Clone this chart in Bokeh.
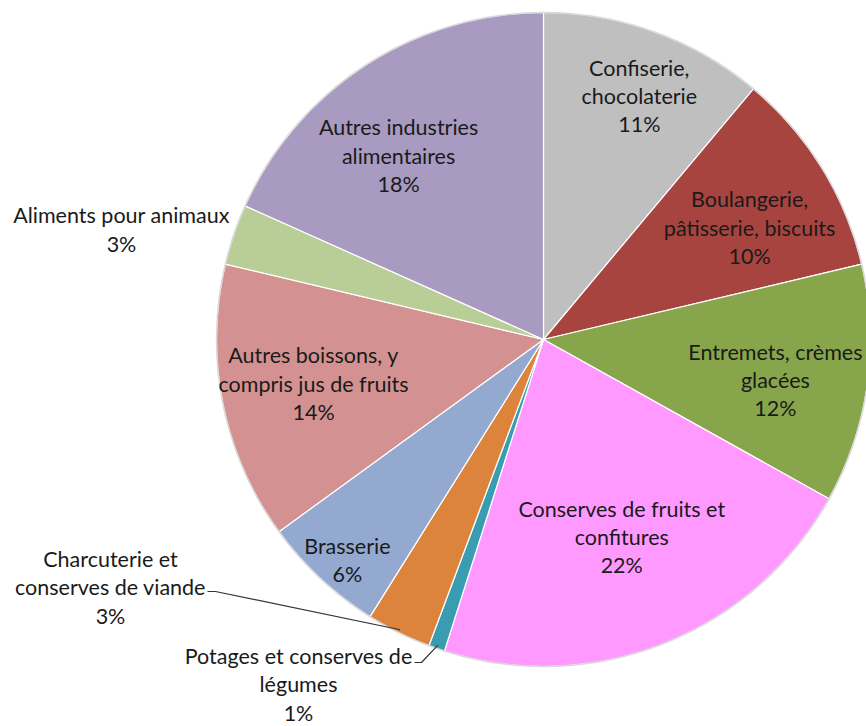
import math
from bokeh.plotting import figure
from bokeh.models import Range1d, ColumnDataSource
from bokeh.core.properties import value
from bokeh.embed import file_html
from bokeh.resources import INLINE

# ---- data ----
categories = [
    "Confiserie,\nchocolaterie",
    "Boulangerie,\npâtisserie, biscuits",
    "Entremets, crèmes\nglacées",
    "Conserves de fruits et\nconfitures",
    "Potages et conserves de\nlégumes",
    "Charcuterie et\nconserves de viande",
    "Brasserie",
    "Autres boissons, y\ncompris jus de fruits",
    "Aliments pour animaux",
    "Autres industries\nalimentaires",
]
shares = [11.1, 10.2, 11.8, 21.8, 0.8, 3.2, 6.1, 13.7, 3.0, 18.3]
pct_labels = ["11%", "10%", "12%", "22%", "1%", "3%", "6%", "14%", "3%", "18%"]
colors = ["#BFBFBF", "#A8443F", "#87A54B", "#FF99FF", "#3A9CB0",
          "#DC843C", "#93A9D0", "#D39291", "#B9CD97", "#A89AC0"]

# ---- layout (image pixel coords: x right, y down) ----
W, H = 866, 726
CX, CY, R = 543, 339, 327
# label distance as fraction of radius, for inside labels (None -> outside)
inside_rf = [0.80, 0.717, 0.72, 0.65, None, None, 0.903, 0.716, None, 0.716]
inside_dang = [1.5, 3.2, 2.0, 0.0, 0, 0, -1.4, 0.5, 0, -5.3]
outside_pos = {4: (298, 684), 5: (110, 587), 8: (121, 229)}

def dy(img_y):
    return H - img_y

p = figure(width=W, height=H, output_backend="svg", toolbar_location=None,
           x_range=Range1d(0, W), y_range=Range1d(0, H), min_border=0)
p.axis.visible = False
p.grid.visible = False
p.outline_line_color = None
p.background_fill_color = "white"

total = sum(shares)
starts, ends, mids = [], [], []
c = 0.0
for s in shares:
    t0 = 2 * math.pi * c / total
    c += s
    t1 = 2 * math.pi * c / total
    starts.append(math.pi / 2 - t0)
    ends.append(math.pi / 2 - t1)
    mids.append((t0 + t1) / 2)

src = ColumnDataSource(dict(start=starts, end=ends, color=colors))
p.wedge(x=CX, y=dy(CY), radius=R, start_angle="start", end_angle="end",
        direction="clock", fill_color="color", line_color="white",
        line_width=1.2, source=src)
p.scatter(x=[CX], y=[dy(CY)], size=2 * R, marker="circle", fill_color=None,
          line_color="#D9D9D9", line_width=1.5)

xs, ys, txt = [], [], []
for i, (cat, pl) in enumerate(zip(categories, pct_labels)):
    if inside_rf[i] is not None:
        th = mids[i] + math.radians(inside_dang[i])
        r = inside_rf[i] * R
        x = CX + r * math.sin(th)
        y = CY - r * math.cos(th)
    else:
        x, y = outside_pos[i]
    xs.append(x)
    ys.append(dy(y))
    txt.append(cat + "\n" + pl)

p.text(x=xs, y=ys, text=txt, text_align="center", text_baseline="middle",
       text_font=value("Lato"), text_font_size="21.5px", text_color="#1A1A1A",
       text_line_height=1.09)

# leader lines
def edge(i, rr=1.0):
    th = mids[i]
    return CX + rr * R * math.sin(th), CY - rr * R * math.cos(th)

ex, ey = edge(5, 0.99)
p.line(x=[207, 215, ex], y=[dy(591), dy(591), dy(ey)], line_color="#333333", line_width=1.2)
ex, ey = edge(4, 0.99)
p.line(x=[414, 421, ex], y=[dy(662), dy(662), dy(ey)], line_color="#333333", line_width=1.2)

open("out.html", "w").write(file_html(p, INLINE))
